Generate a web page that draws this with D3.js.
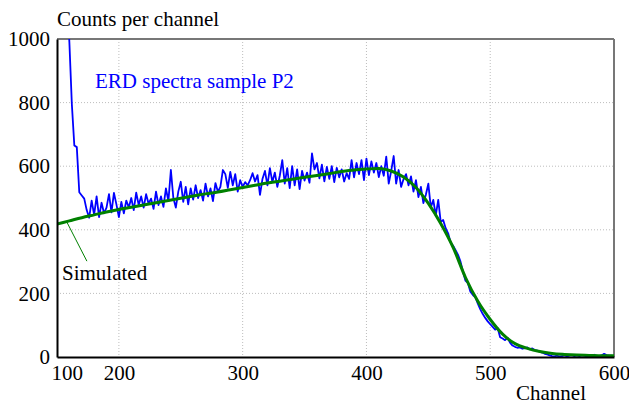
<!DOCTYPE html>
<html>
<head>
<meta charset="utf-8">
<script src="https://cdn.jsdelivr.net/npm/d3@7"></script>
</head>
<body style="margin:0; background:#fff; font-family: 'Liberation Serif', serif">
<script>
/* Channel range of the plot and tick labels */
const xDomain = [150, 600];
const yDomain = [0, 1000];
const xTickValues = [150, 200, 300, 400, 500, 600];
const xTickLabels = ["100", "200", "300", "400", "500", "600"];
const yTickValues = [0, 200, 400, 600, 800, 1000];
const xGridValues = [200, 300, 400, 500];
const yGridValues = [200, 400, 600, 800];

/* Measured ERD spectrum, one value every 2 channels starting at channel 150 */
const measuredStart = 150;
const measuredStep = 2;
const measuredCounts = [
  1700, 1560, 1420, 1280, 1140, 990, 795, 665, 660, 518,
  508, 498, 462, 438, 492, 447, 505, 440, 485, 452,
  470, 512, 455, 516, 480, 440, 488, 452, 492, 470,
  500, 462, 517, 478, 505, 470, 512, 482, 498, 466,
  520, 478, 505, 472, 530, 490, 588, 500, 470, 520,
  551, 488, 535, 480, 530, 495, 540, 500, 525, 492,
  545, 505, 530, 490, 547, 520, 535, 588, 575, 532,
  582, 540, 575, 520, 556, 535, 550, 540, 556, 578,
  552, 572, 510, 560, 585, 540, 594, 550, 580, 535,
  570, 619, 545, 594, 531, 600, 540, 590, 528, 585,
  555, 580, 548, 640, 590, 610, 562, 605, 552, 598,
  560, 600, 550, 595, 565, 590, 552, 578, 560, 619,
  565, 610, 575, 619, 556, 624, 572, 615, 580, 610,
  566, 600, 570, 630, 545, 585, 632, 545, 588, 535,
  560, 575, 540, 568, 520, 556, 503, 535, 484, 510,
  545, 470, 494, 445, 494, 425, 431, 405, 389, 360,
  350, 336, 321, 300, 268, 240, 232, 205, 195, 188,
  168, 150, 135, 123, 112, 103, 95, 86, 91, 62,
  58, 53, 60, 45, 36, 32, 29, 30, 26, 28,
  30, 24, 27, 22, 20, 17, 14, 10, 8, 5,
  3, 2, 4, 1, 3, 5, 2, 4, 6, 3,
  5, 3, 6, 4, 2, 5, 3, 7, 4, 3,
  5, 10, 6, 4, 4, 3
];

/* Simulated spectrum, every 10 channels */
const simChannels = [
  150, 160, 170, 180, 190, 200, 210, 220, 230, 240,
  250, 260, 270, 280, 290, 300, 310, 320, 330, 340,
  350, 360, 370, 380, 390, 400, 410, 420, 430, 440,
  450, 460, 470, 480, 490, 500, 510, 520, 530, 540,
  550, 560, 570, 580, 590, 600
];
const simCounts = [
  418, 428, 438, 447, 456, 464, 471, 478, 485, 492,
  499, 506, 513, 519, 526, 533, 540, 547, 553, 559,
  565, 571, 577, 583, 588, 591, 593, 585, 566, 533,
  483, 420, 345, 250, 175, 118, 72, 42, 27, 17,
  11, 8, 6, 5, 4, 4
];

/* Annotation texts */
const yTitle = "Counts per channel";
const xTitle = "Channel";
const seriesTitle = "ERD spectra sample P2";
const simLabel = "Simulated";
const simLabelAnchor = [158, 424];

const width = 629, height = 404;
const margin = {top: 39, right: 15, bottom: 47, left: 57};
const innerW = width - margin.left - margin.right;
const innerH = height - margin.top - margin.bottom;

const svg = d3.select("body").append("svg")
    .attr("width", width)
    .attr("height", height)
    .attr("font-family", "Liberation Serif")
    .style("display", "block");

const g = svg.append("g")
    .attr("transform", "translate(" + margin.left + "," + margin.top + ")");

const x = d3.scaleLinear().domain(xDomain).range([0, innerW]);
const y = d3.scaleLinear().domain(yDomain).range([innerH, 0]);

/* Dotted grid */
g.append("g").selectAll("line")
    .data(xGridValues)
    .enter().append("line")
    .attr("x1", d => x(d)).attr("x2", d => x(d))
    .attr("y1", 0).attr("y2", innerH)
    .attr("stroke", "#bdbdbd")
    .attr("stroke-width", 1)
    .attr("stroke-dasharray", "1,2");

g.append("g").selectAll("line")
    .data(yGridValues)
    .enter().append("line")
    .attr("x1", 0).attr("x2", innerW)
    .attr("y1", d => y(d)).attr("y2", d => y(d))
    .attr("stroke", "#bdbdbd")
    .attr("stroke-width", 1)
    .attr("stroke-dasharray", "1,2");

/* Frame: gray top and right, black axes */
g.append("line").attr("x1", 0).attr("x2", innerW).attr("y1", 0).attr("y2", 0)
    .attr("stroke", "#777").attr("stroke-width", 2);
g.append("line").attr("x1", innerW).attr("x2", innerW).attr("y1", 0).attr("y2", innerH)
    .attr("stroke", "#777").attr("stroke-width", 2);

/* Data, clipped to the plot area */
svg.append("defs").append("clipPath").attr("id", "plotClip")
  .append("rect").attr("width", innerW).attr("height", innerH);

const plot = g.append("g").attr("clip-path", "url(#plotClip)");

const measured = measuredCounts.map((v, i) => [measuredStart + i * measuredStep, v]);
const simulated = simChannels.map((c, i) => [c, simCounts[i]]);

plot.append("path")
    .datum(measured)
    .attr("fill", "none")
    .attr("stroke", "#0000ff")
    .attr("stroke-width", 1.8)
    .attr("stroke-linejoin", "round")
    .attr("d", d3.line().x(d => x(d[0])).y(d => y(d[1])));

plot.append("path")
    .datum(simulated)
    .attr("fill", "none")
    .attr("stroke", "#008000")
    .attr("stroke-width", 3)
    .attr("d", d3.line().curve(d3.curveMonotoneX).x(d => x(d[0])).y(d => y(d[1])));

/* Axes without tick marks */
const xAxis = g.append("g")
    .attr("transform", "translate(0," + innerH + ")")
    .call(d3.axisBottom(x).tickValues(xTickValues).tickSize(0).tickPadding(0)
      .tickFormat((d, i) => xTickLabels[i]));
xAxis.attr("font-family", "Liberation Serif").attr("font-size", 21);
xAxis.select(".domain").attr("stroke", "#000").attr("stroke-width", 2);
xAxis.selectAll("text")
    .style("font-family", "Liberation Serif")
    .style("font-size", "21px")
    .attr("fill", "#000")
    .attr("y", 23)
    .attr("dy", 0)
    .attr("text-anchor", (d, i) => i === 0 ? "start" : "middle")
    .attr("dx", (d, i) => i === 0 ? -6 : 0);

const yAxis = g.append("g")
    .call(d3.axisLeft(y).tickValues(yTickValues).tickSize(0).tickPadding(7)
      .tickFormat(d3.format("d")));
yAxis.attr("font-family", "Liberation Serif").attr("font-size", 21);
yAxis.select(".domain").attr("stroke", "#000").attr("stroke-width", 2);
yAxis.selectAll("text")
    .style("font-family", "Liberation Serif")
    .style("font-size", "21px")
    .attr("fill", "#000");

/* Titles */
function addLabel(parent, text, px, py, color) {
  return parent.append("text")
      .attr("x", px)
      .attr("y", py)
      .style("font-family", "Liberation Serif")
      .style("font-size", "21px")
      .attr("fill", color)
      .text(text);
}

addLabel(svg, yTitle, margin.left, 26, "#000");
addLabel(svg, xTitle, 516, 400, "#000");
addLabel(g, seriesTitle, 38, 49, "#0000ff");

/* "Simulated" label with leader line */
const lx = x(simLabelAnchor[0]), ly = y(simLabelAnchor[1]);
g.append("line")
    .attr("x1", lx).attr("y1", ly)
    .attr("x2", lx + 20).attr("y2", ly + 39)
    .attr("stroke", "#008000")
    .attr("stroke-width", 1);

addLabel(g, simLabel, 5, 241, "#000");
</script>
</body>
</html>
